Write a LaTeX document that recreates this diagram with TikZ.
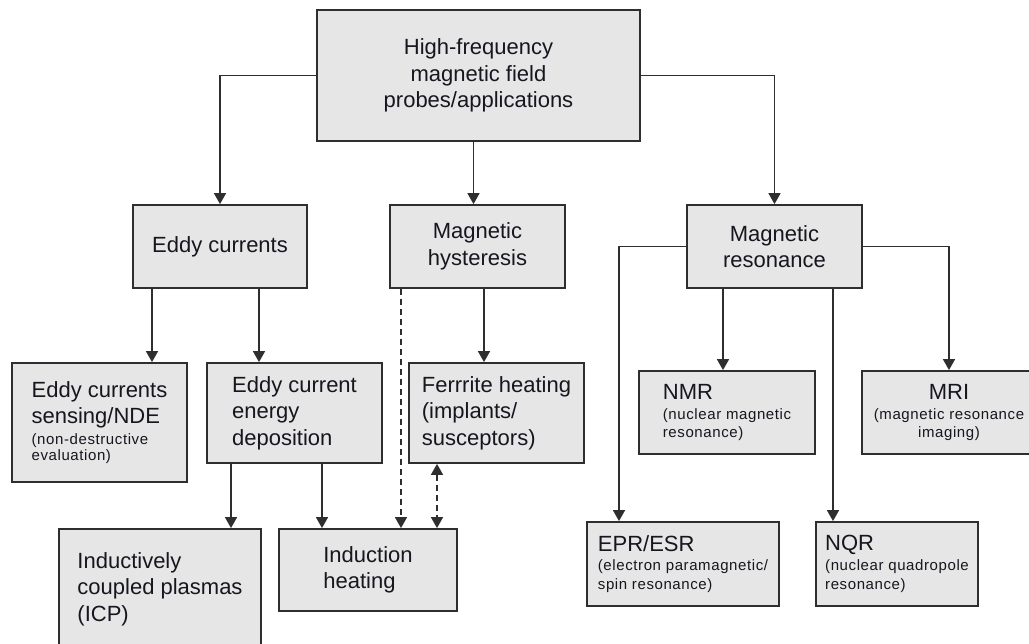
\documentclass[tikz,border=0pt]{standalone}
\usepackage{fontspec}
\setmainfont{Liberation Sans}
\newfontfamily\notefont[LetterSpace=4]{Liberation Sans}
\usetikzlibrary{arrows.meta}

\definecolor{boxfill}{HTML}{E6E6E6}
\definecolor{boxline}{HTML}{2E2E2E}
\definecolor{ink}{HTML}{16161F}

\newcommand{\headtxt}{\fontsize{22}{26.5}\selectfont}
\newcommand{\notetxt}{\notefont\fontsize{15}{16}\selectfont}

\begin{document}
\begin{tikzpicture}[x=1pt, y=-1pt]
\tikzset{ >={Triangle[length=11pt,width=12pt]},
  box/.style={draw=boxline, line width=1.8pt, fill=boxfill, text=ink, inner sep=0pt, font=\headtxt},
  link/.style={->, draw=boxline, line width=1.6pt},
  hint/.style={link, dash pattern=on 6pt off 4pt},
}

\useasboundingbox (0,0) rectangle (1029,644);

%\draw [lightgray, dashed](0,0) grid [step=50] (1029,644);

% top level
\node [box, minimum width=323pt, minimum height=131pt, align=center] (HF) at (478.5,75.5)
  {High-frequency\\magnetic field\\probes/applications};

\node [box, minimum width=174pt, minimum height=83pt, align=center] (Eddy)  at (220,246.5)   {Eddy currents};
\node [box, minimum width=175pt, minimum height=83pt, align=center] (Hyst)  at (477.5,246.5) {Magnetic\\hysteresis};
\node [box, minimum width=175pt, minimum height=83pt, align=center] (Reson) at (774.5,246.5) {Magnetic\\resonance};

% second level
\node [box, minimum width=175pt, minimum height=119pt, align=left] (Sens) at (99.5,422.5)
  {\headtxt Eddy currents\\\headtxt sensing/NDE\\[-6pt]\notetxt (non-destructive\\[-10pt]\notetxt evaluation)};
\node [box, minimum width=175pt, minimum height=100pt, align=left] (Depo) at (294.5,413)
  {Eddy current\\energy\\deposition};
\node [box, minimum width=175pt, minimum height=100pt, align=left] (Ferr) at (496.5,413)
  {Ferrrite heating\\(implants/\\susceptors)};
\node [box, minimum width=176pt, minimum height=83pt, align=left] (NMR) at (727,412.5)
  {\headtxt NMR\\[-6.5pt]\notetxt (nuclear magnetic\\[-9pt]\notetxt resonance)};
\node [box, minimum width=174pt, minimum height=83pt, align=center] (MRI) at (949,412.5)
  {\headtxt MRI\\[-6.5pt]\notetxt (magnetic resonance\\[-9pt]\notetxt imaging)};

% third level
\node [box, minimum width=202pt, minimum height=120pt, align=left] (ICP) at (160,589)
  {Inductively\\coupled plasmas\\(ICP)};
\node [box, minimum width=178pt, minimum height=82pt, align=left] (Ind) at (368,570)
  {Induction\\heating};
\node [box, minimum width=192pt, minimum height=84pt, align=left] (EPR) at (683,564)
  {\headtxt EPR/ESR\\[-7pt]\notetxt (electron paramagnetic/\\[-7.5pt]\notetxt spin resonance)};
\node [box, minimum width=162pt, minimum height=84pt, align=left] (NQR) at (897,564)
  {\headtxt NQR\\[-7pt]\notetxt (nuclear quadropole\\[-7.5pt]\notetxt resonance)};

% top level links
\draw [link] (HF.west) -| (Eddy.north);
\draw [link] ([xshift=-4pt]Hyst.north |- HF.south) -- ([xshift=-4pt]Hyst.north);
\draw [link] (HF.east) -| (Reson.north);

% eddy currents
\coordinate (e1) at ([xshift=-68pt]Eddy.south);
\coordinate (e2) at ([xshift=39pt]Eddy.south);
\draw [link] (e1) -- (e1 |- Sens.north);
\draw [link] (e2) -- (e2 |- Depo.north);

\coordinate (d1) at ([xshift=-63.5pt]Depo.south);
\coordinate (d2) at ([xshift=27.5pt]Depo.south);
\draw [link] (d1) -- (d1 |- ICP.north);
\draw [link] (d2) -- (d2 |- Ind.north);

% hysteresis
\coordinate (h1) at ([xshift=-76.5pt]Hyst.south);
\coordinate (h2) at ([xshift=6.5pt]Hyst.south);
\draw [hint] (h1) -- (h1 |- Ind.north);
\draw [link] (h2) -- (h2 |- Ferr.north);

\coordinate (f1) at ([xshift=-59.5pt]Ferr.south);
\draw [hint, <->] (f1) -- (f1 |- Ind.north);

% resonance
\draw [link] (Reson.west) -| ([xshift=-64pt]EPR.north);
\coordinate (r1) at ([xshift=-51.5pt]Reson.south);
\coordinate (r2) at ([xshift=58.5pt]Reson.south);
\draw [link] (r1) -- (r1 |- NMR.north);
\draw [link] (r2) -- (r2 |- NQR.north);
\draw [link] (Reson.east) -| (MRI.north);

\end{tikzpicture}
\end{document}
